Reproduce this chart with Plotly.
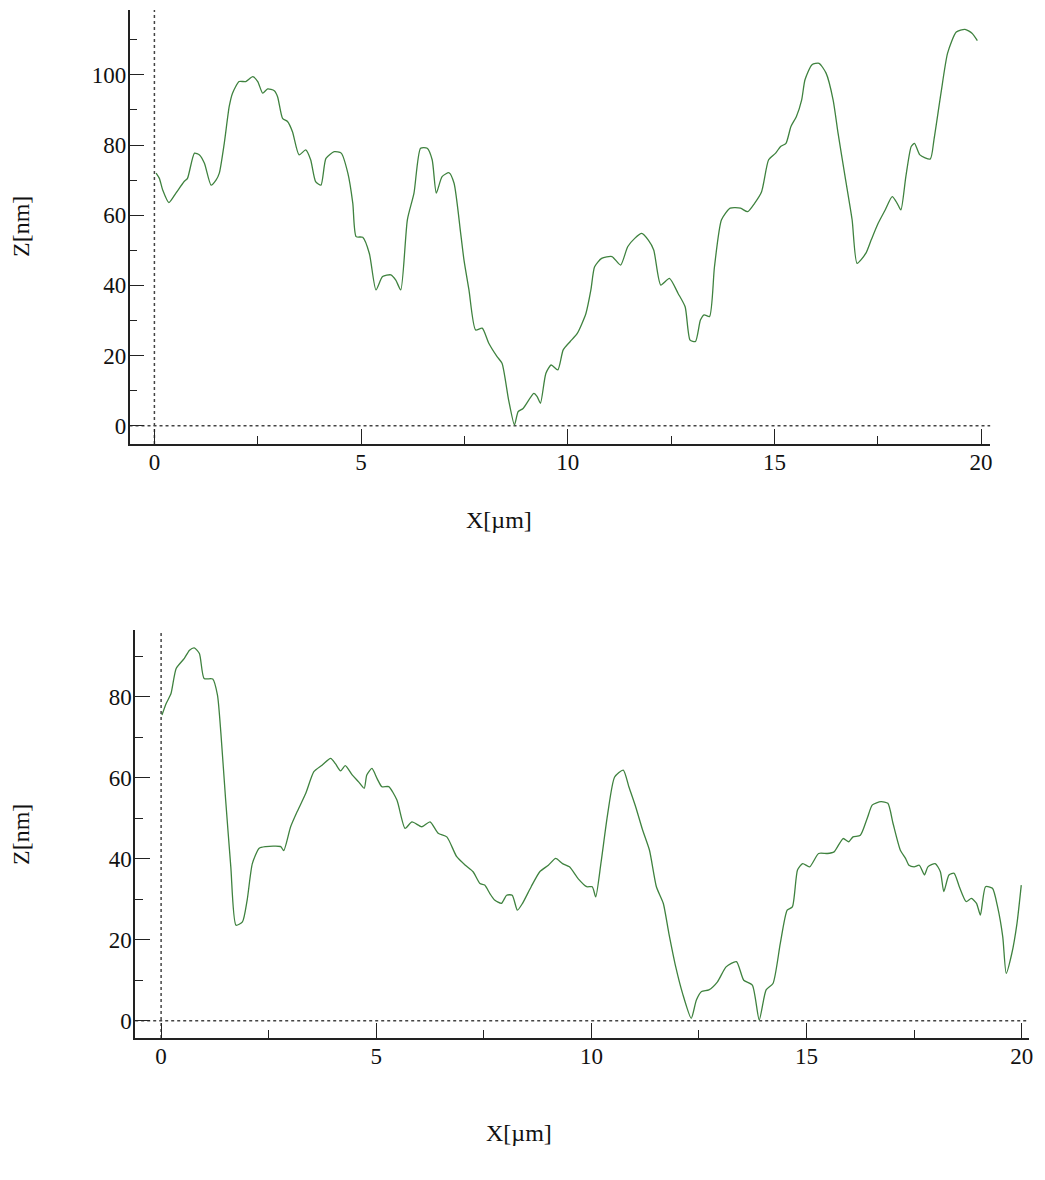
import plotly.graph_objects as go

# ---- Top profile ----
top_x = [0.04, 0.12, 0.2, 0.35, 0.52, 0.72, 0.8, 0.97, 1.09, 1.21, 1.37, 1.49, 1.57, 1.69, 1.81, 1.89,
         2.05, 2.21, 2.38, 2.5, 2.62, 2.74, 2.9, 2.98, 3.1, 3.22, 3.34, 3.5, 3.66, 3.78, 3.9, 4.03,
         4.15, 4.35, 4.52, 4.68, 4.8, 4.88, 5.04, 5.2, 5.36, 5.52, 5.72, 5.84, 5.96, 6.12, 6.28,
         6.44, 6.6, 6.72, 6.82, 6.96, 7.13, 7.25, 7.41, 7.49, 7.61, 7.77, 7.93, 8.09, 8.29, 8.41,
         8.57, 8.71, 8.8, 8.92, 9.18, 9.26, 9.34, 9.47, 9.6, 9.76, 9.89, 10.06, 10.23, 10.44,
         10.56, 10.65, 10.82, 11.07, 11.28, 11.45, 11.62, 11.79, 11.95, 12.08, 12.25, 12.46,
         12.67, 12.84, 12.96, 13.09, 13.21, 13.3, 13.43, 13.55, 13.72, 13.93, 14.18, 14.35,
         14.52, 14.69, 14.86, 15.03, 15.15, 15.28, 15.4, 15.53, 15.66, 15.74, 15.91, 16.08,
         16.25, 16.42, 16.54, 16.71, 16.88, 17.0, 17.21, 17.34, 17.51, 17.68, 17.85, 17.97,
         18.06, 18.18, 18.31, 18.39, 18.52, 18.77, 18.86, 19.03, 19.19, 19.4, 19.61, 19.78, 19.91]
top_z = [72, 70.5, 67.2, 63.6, 66.3, 69.6, 70.5, 77.7, 77.2, 74.8, 68.6, 70, 72, 80.5, 91, 94.8,
         98.1, 98.1, 99.5, 98.1, 94.8, 96, 95.5, 93.8, 87.6, 86.7, 83.8, 77.2, 78.6, 75.8, 69.6, 68.6,
         76.2, 78.1, 77.7, 72, 63.4, 53.9, 53.7, 49.1, 38.7, 42.5, 43, 41.5, 38.7, 58.7, 66.3,
         79.1, 79.1, 75.8, 66.3, 71, 72.1, 69.1, 54.8, 47.2, 38.7, 27.3, 27.8, 23.5, 19.7, 17.8,
         7.3, 0.2, 4, 4.9, 9.2, 8.3, 6.4, 14.9, 17.3, 15.9, 21.6, 24, 26.3, 32,
         38.7, 45.3, 47.7, 48.2, 45.8, 51, 53.4, 54.8, 52.9, 50.1, 40.1, 42,
         37.7, 33.9, 24.4, 24, 30.1, 31.6, 31.1, 45.3, 58.7, 62, 62, 61,
         63.4, 66.7, 75.8, 77.7, 79.6, 80.5, 85.3, 88.1, 92.9, 98.6, 102.9, 103.3,
         100.5, 92.9, 83.4, 71, 58.7, 46.3, 49.1, 52.9, 57.7, 61.5, 65.3, 63.4,
         61.5, 71, 79.6, 80.5, 77.2, 76, 81.5, 94.8, 106.2, 112.2, 113, 111.9, 109.8]

# ---- Bottom profile ----
bot_x = [0.02, 0.12, 0.23, 0.35, 0.54, 0.66, 0.77, 0.89, 1.0, 1.2, 1.31, 1.39, 1.5, 1.62, 1.74,
         1.89, 2.0, 2.12, 2.28, 2.43, 2.62, 2.78, 2.85, 3.01, 3.16, 3.36, 3.55, 3.74, 3.94, 4.05,
         4.17, 4.28, 4.44, 4.59, 4.72, 4.78, 4.9, 5.02, 5.13, 5.29, 5.48, 5.67, 5.83, 6.06, 6.25,
         6.44, 6.64, 6.87, 7.07, 7.25, 7.41, 7.52, 7.64, 7.75, 7.91, 8.03, 8.16, 8.28, 8.4, 8.6,
         8.8, 9.0, 9.17, 9.33, 9.49, 9.69, 9.89, 10.02, 10.1, 10.22, 10.38, 10.54, 10.74, 10.87,
         11.03, 11.19, 11.35, 11.51, 11.67, 11.8, 11.96, 12.12, 12.32, 12.44, 12.56, 12.73, 12.93,
         13.13, 13.37, 13.54, 13.74, 13.9, 14.06, 14.22, 14.39, 14.55, 14.67, 14.79, 14.91, 15.07,
         15.28, 15.48, 15.64, 15.85, 15.98, 16.08, 16.25, 16.41, 16.53, 16.73, 16.89, 17.01, 17.18,
         17.3, 17.38, 17.5, 17.62, 17.74, 17.82, 17.99, 18.11, 18.19, 18.31, 18.43, 18.55, 18.71,
         18.83, 18.95, 19.04, 19.16, 19.32, 19.44, 19.56, 19.64, 19.77, 19.89, 19.99]
bot_z = [75.5, 78.4, 80.8, 87, 89.5, 91.5, 92.1, 90.7, 84.5, 84.4, 80.4, 70.9, 54.5, 38, 23.6,
         24.4, 29.8, 38.8, 42.6, 43, 43.1, 43, 42, 47.9, 51.6, 56.1, 61.5, 63.1, 64.8, 63.5,
         61.7, 63, 60.7, 59, 57.4, 60.7, 62.3, 59.8, 57.8, 57.8, 54.5, 47.5, 49.1, 47.9, 49.1,
         46.3, 45.4, 40.5, 38.4, 36.8, 33.9, 33.5, 31.4, 29.8, 29, 31, 31, 27.3, 29, 33.1,
         36.8, 38.4, 40.1, 38.8, 38, 35.1, 33.1, 33.1, 30.6, 38.8, 51.2, 60.2, 61.9, 57.8,
         52.8, 47.1, 42.1, 33.1, 29, 21.6, 13.3, 6.7, 0.6, 5.1, 7.2, 7.6, 9.6,
         13.3, 14.6, 10, 8.8, 0.2, 7.6, 9.2, 19.1, 27.3, 28.1, 37.2, 38.8, 38,
         41.3, 41.3, 41.7, 45, 44.2, 45.4, 45.8, 50, 53.3, 54.1, 53.7, 48.7, 42.1,
         40.1, 38.4, 38, 38.4, 36, 38, 38.8, 36.8, 31.9, 36, 36.4, 33.1, 29.4,
         30.2, 29, 26.1, 33.1, 32.7, 28.1, 20.7, 11.7, 16.6, 24, 33.5]

X_TITLE = "X[µm]"
Z_TITLE = "Z[nm]"

# page has an 8px body margin: draw in a slightly smaller figure and offset all positions
OFF = 8
W, H = 1045 - 2 * OFF, 1180 - 2 * OFF
FONT = "Liberation Serif"
LINE_COLOR = "#3f823f"
AX_COLOR = "#222222"

fig = go.Figure()
fig.add_trace(go.Scatter(x=top_x, y=top_z, mode="lines", xaxis="x", yaxis="y",
                         line=dict(color=LINE_COLOR, width=1.3, shape="spline", smoothing=0.6),
                         showlegend=False))
fig.add_trace(go.Scatter(x=bot_x, y=bot_z, mode="lines", xaxis="x2", yaxis="y2",
                         line=dict(color=LINE_COLOR, width=1.3, shape="spline", smoothing=0.6),
                         showlegend=False))


def px_x(s):
    """screen x pixel -> paper fraction"""
    return (s - OFF) / W


def px_y(s):
    """screen y pixel -> paper fraction"""
    return 1 - (s - OFF) / H


def axis_common(dtick, minor_dtick):
    return dict(
        showline=True, linecolor=AX_COLOR, linewidth=1.5, mirror=False,
        showgrid=False, zeroline=False,
        ticks="inside", ticklen=15, tickwidth=1.3, tickcolor=AX_COLOR,
        tick0=0, dtick=dtick,
        minor=dict(ticks="inside", ticklen=8, tickwidth=1.3, tickcolor=AX_COLOR,
                   dtick=minor_dtick, tick0=0, showgrid=False),
        tickfont=dict(family=FONT, size=23, color="#111111"),
        ticklabelstandoff=-3,
        fixedrange=True,
    )


fig.update_layout(
    width=W, height=H,
    margin=dict(l=0, r=0, t=0, b=0),
    paper_bgcolor="white", plot_bgcolor="white",
    xaxis=dict(domain=[px_x(130), px_x(994)], range=[-0.602, 20.22], anchor="y",
               **axis_common(5, 2.5)),
    yaxis=dict(domain=[px_y(444), px_y(10)], range=[-5.22, 118.5], anchor="x",
               **axis_common(20, 10)),
    xaxis2=dict(domain=[px_x(135.7), px_x(1033)], range=[-0.602, 20.17], anchor="y2",
                **axis_common(5, 2.5)),
    yaxis2=dict(domain=[px_y(1038), px_y(630)], range=[-4.27, 96.5], anchor="x2",
                **axis_common(20, 10)),
)

# dotted reference lines at x=0 and z=0
for xr, yr in (("x", "y"), ("x2", "y2")):
    fig.add_shape(type="line", xref=xr, yref=yr + " domain", x0=0, x1=0, y0=0, y1=1,
                  line=dict(color="#444444", width=1.5, dash="dot"), layer="below")
    fig.add_shape(type="line", xref=xr + " domain", yref=yr, x0=0, x1=1, y0=0, y1=0,
                  line=dict(color="#444444", width=1.5, dash="dot"), layer="below")

title_font = dict(family=FONT, size=24, color="#111111")
fig.add_annotation(x=px_x(501), y=px_y(520), xref="paper", yref="paper", text=X_TITLE,
                   showarrow=False, font=title_font, xanchor="center", yanchor="middle")
fig.add_annotation(x=px_x(521), y=px_y(1133), xref="paper", yref="paper", text=X_TITLE,
                   showarrow=False, font=title_font, xanchor="center", yanchor="middle")
fig.add_annotation(x=px_x(21), y=px_y(226), xref="paper", yref="paper", text=Z_TITLE,
                   showarrow=False, font=title_font, textangle=-90,
                   xanchor="center", yanchor="middle")
fig.add_annotation(x=px_x(21), y=px_y(834), xref="paper", yref="paper", text=Z_TITLE,
                   showarrow=False, font=title_font, textangle=-90,
                   xanchor="center", yanchor="middle")

fig.write_html("out.html")
